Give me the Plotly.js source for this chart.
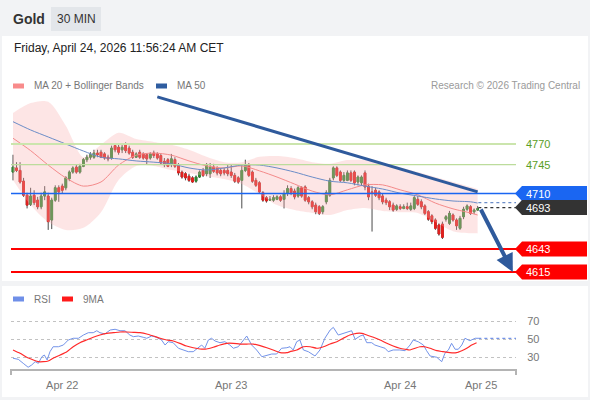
<!DOCTYPE html>
<html><head><meta charset="utf-8">
<script src="https://cdn.plot.ly/plotly-3.0.1.min.js"></script>
<style>html,body{margin:0;padding:0;background:#fff;}#chart{width:590px;height:400px;}</style>
</head><body><div id="chart"></div>
<script>
// ---------- DATA (30-min bars) ----------
const openP = [4736,4741,4738,4725,4708,4697,4708,4702,4694,4707,
 4707,4678,4702,4717,4719,4717,4728,4736,4742,4736,
 4743,4751,4754,4754,4759,4760,4758,4754,4753,4768,
 4766,4763,4769,4765,4760,4754,4760,4758,4757,4753,
 4759,4758,4756,4749,4751,4745,4751,4745,4736,4734,
 4731,4729,4725,4730,4738,4734,4734,4742,4741,4738,
 4738,4738,4736,4732,4729,4726,4738,4745,4736,4726,
 4723,4711,4705,4702,4702,4703,4706,4703,4710,4716,
 4713,4707,4717,4718,4705,4700,4696,4694,4688,4700,
 4708,4729,4741,4736,4726,4726,4735,4736,4724,4723,
 4735,4719,4712,4714,4712,4707,4702,4700,4696,4691,
 4694,4692,4694,4691,4692,4703,4700,4695,4688,4683,
 4678,4672,4673,4679,4674,4684,4678,4668,4682,4691,
 4694,4688,4690];
const highP = [4757,4748,4748,4729,4711,4717,4714,4706,4711,4719,
 4711,4705,4720,4720,4722,4731,4738,4743,4745,4746,
 4753,4757,4760,4763,4763,4763,4760,4757,4768,4770,
 4769,4769,4772,4768,4763,4760,4763,4760,4759,4760,
 4762,4760,4758,4753,4753,4758,4754,4747,4738,4736,
 4734,4731,4732,4738,4741,4747,4747,4746,4743,4741,
 4741,4745,4745,4735,4731,4745,4751,4747,4738,4729,
 4725,4713,4707,4707,4708,4708,4708,4714,4720,4719,
 4716,4719,4719,4720,4707,4702,4699,4696,4696,4714,
 4729,4743,4743,4738,4736,4738,4738,4738,4732,4732,
 4738,4722,4719,4717,4714,4710,4705,4702,4699,4697,
 4697,4697,4699,4699,4707,4707,4703,4697,4690,4685,
 4680,4674,4676,4684,4689,4686,4680,4683,4694,4697,
 4696,4692,4695];
const lowP = [4726,4736,4722,4706,4692,4695,4696,4691,4691,4702,
 4666,4667,4700,4700,4710,4714,4725,4734,4734,4734,
 4742,4748,4751,4752,4754,4753,4751,4749,4751,4760,
 4757,4759,4759,4757,4752,4753,4752,4751,4745,4751,
 4753,4751,4745,4742,4742,4742,4741,4732,4728,4726,
 4724,4723,4723,4729,4730,4731,4729,4735,4732,4731,
 4732,4731,4729,4723,4722,4692,4736,4730,4723,4718,
 4710,4700,4699,4701,4700,4702,4700,4692,4707,4708,
 4703,4705,4705,4700,4697,4691,4685,4684,4685,4697,
 4706,4726,4730,4724,4724,4725,4724,4720,4720,4720,
 4714,4702,4664,4706,4702,4697,4696,4690,4688,4689,
 4690,4691,4690,4689,4690,4695,4691,4684,4677,4673,
 4666,4659,4655,4676,4672,4676,4666,4666,4679,4689,
 4684,4685,4689];
const closeP = [4742,4738,4724,4708,4696,4707,4699,4694,4707,4712,
 4676,4702,4717,4712,4714,4729,4736,4741,4736,4743,
 4751,4754,4757,4759,4757,4754,4753,4752,4765,4763,
 4760,4766,4762,4759,4754,4758,4754,4753,4752,4758,
 4756,4753,4747,4745,4743,4752,4743,4735,4730,4729,
 4726,4724,4730,4736,4732,4745,4742,4737,4735,4734,
 4735,4734,4732,4725,4724,4738,4745,4732,4725,4720,
 4712,4702,4701,4703,4705,4706,4702,4710,4716,4711,
 4706,4717,4707,4702,4700,4694,4688,4686,4694,4711,
 4726,4741,4732,4726,4732,4735,4726,4723,4730,4730,
 4718,4706,4711,4708,4705,4700,4699,4694,4690,4695,
 4692,4694,4692,4695,4705,4697,4694,4686,4679,4676,
 4668,4661,4657,4682,4686,4678,4671,4680,4691,4695,
 4686,4690,4692];

// indicator samples (bar index -> value)
const indIdx = [0,5,10,15,20,25,30,35,40,45,50,55,60,65,70,75,80,85,90,95,100,105,110,115,120,125,130,132];
const ma50 = [4797,4787,4778.5,4770,4761.5,4754,4752,4749.5,4748,4746,4741,4738.5,4741,4744.5,4744.5,4741,4736,4730,4725,4723,4719,4715.5,4710.5,4707,4703.5,4701,4700,4698.5];
const ma20 = [4777,4762,4744.5,4729,4719,4724,4744.5,4756.5,4759,4756.5,4749.5,4743.5,4741,4743.5,4737.5,4730,4721.5,4713,4708.5,4714.5,4720.5,4720.5,4714.5,4708.5,4698.5,4691.5,4686.5,4684];
const bbUpper = [4807.5,4819.5,4821,4792,4754,4769,4783.5,4776,4772.5,4769,4763,4754.5,4748,4748,4754.5,4755.5,4753,4748,4746,4750.5,4750.5,4746,4742,4736,4730,4724,4718,4715.5];
const bbLower = [4726.5,4696,4675.5,4666,4668.5,4687.5,4726.5,4743.5,4743.5,4738.5,4735,4731,4727.5,4721.5,4709.5,4696,4690,4686.5,4684,4690,4692.5,4689,4687.5,4686.5,4675.5,4664.5,4662,4662];

const rsiIdx = [0,1.5,2.9,4.3,5.3,6.3,7.2,8.2,8.9,9.7,10.5,11.4,12.9,14.3,15.7,17.1,18.6,20,21.4,22.8,23.8,24.7,26.1,27.6,29,30.4,31.8,33.2,34.2,35.6,37,38,39.4,40.8,42.2,43.2,44.1,45.5,47,48.4,49.8,51.2,52.6,53.6,54.5,55.5,56.4,57.4,58.8,60.2,61.6,62.6,64,65.4,66.4,67.8,69.2,70.7,72.1,73.5,74.9,76.3,77.8,78.7,79.6,80.6,81.5,82.5,83.9,85.8,87.2,88.6,90.1,91,92.4,93.8,95.3,96.2,97.2,98.6,99.5,100.5,101.9,102.8,104.3,105.7,106.6,108,109.9,111.4,112.8,113.7,115.1,116.6,117.5,118.5,120.4,121.8,122.7,123.7,124.6,125.6,126.5,127.5,128.4,129.8,131.3,132.2];
const rsiVal = [28.6,27.4,23,18.6,21.1,24.8,23,30.3,32.2,26.7,35.9,41.4,41.4,43.3,48.9,50.8,50.8,54.4,57,57,59.2,57,55.6,60,60.8,59.2,59.2,54.4,52.6,53.3,51.9,50.8,53.3,51.9,48.9,43.3,47,45.9,39.7,37.8,35.9,35.9,39.7,43.3,39.7,48.9,50.8,47.8,45.9,47,43.3,39.7,41.4,48.9,53.3,43.3,37.8,30.3,32.2,33.3,33.3,39.7,40.3,41.4,37.8,47,48.9,37.8,35.9,31.1,37.8,50.8,60,62.9,54.4,56.3,58.1,59.2,49.7,53.3,54.4,45.9,45.9,43.3,41.4,39.7,35.9,37.8,37.8,37,43.3,48.9,47,43.3,37,31.1,29.7,24.8,34.1,37.8,45.2,38.6,38.6,43.3,50.8,48.1,50.8,50.8];
const maRsiIdx = [0,2,3.9,5.8,7.2,8.6,10,11.4,13.4,15.3,17.1,19,20.9,22.8,24.7,26.6,28.5,30.4,32.3,34.2,36.1,38,39.9,41.8,43.7,45.5,47.4,49.3,51.2,53.1,55,56.9,58.8,60.7,62.6,64.5,66.4,68.3,70.2,72.1,73.9,75.9,77.8,78.7,80.6,82.5,84.4,86.3,88.2,90.1,92,93.8,95.7,97.6,99.1,100.5,102.4,104.3,106.2,108,109.9,111.4,112.8,114.2,115.6,117,118.5,120.4,122.2,124.1,126,127.5,128.9,130.3,131.7];
const maRsiVal = [37.8,34.1,29.7,26.7,24.8,24.8,25.6,28.6,32.2,35.9,41.4,45.9,48.9,51.9,54.4,56.3,57,57.8,57.8,57.4,57,55.6,53.3,50.8,48.9,47.8,45.2,42.2,40.3,38.9,38.9,40.8,43.3,45.2,45.2,44.4,44.4,44.4,42.6,40.3,37.8,34.8,34.8,35.9,37.8,41.4,41.4,39.7,41.4,44.4,47,50.8,54.4,56.3,56.3,54.4,51.9,48.9,45.2,42.2,39.7,38.6,37.8,39.7,41.4,41.4,39.7,37,35.9,34.8,34.8,37,39.7,43.3,45.9];

const tickIdx = [14, 62, 110, 133];
const tickText = ['Apr 22', 'Apr 23', 'Apr 24', 'Apr 25'];
const rsiTicks = [30, 50, 70];

const resistLevels = [4770, 4745];
const pivotLevel = 4710;
const lastPrice = 4693;
const lastMa50 = 4699;
const supportLevels = [4643, 4615];
const trendIdx = [41, 132];
const trendPrice = [4827, 4712];
const arrowIdx = [132.7, 142];
const arrowPrice = [4692.5, 4615];

// ---------- helpers ----------
const W = 590, H = 400;
const px = x => x / W;
const py = y => 1 - y / H;
const FONT = "Arial, 'Liberation Sans', sans-serif";
const bars = openP.map((_, i) => i);
const bodyHi = openP.map((o, i) => Math.max(o, closeP[i]));
const bodyLo = openP.map((o, i) => Math.min(o, closeP[i]));
const xEnd = 142.9;
const GREEN = '#2e8b34', RED = '#e3201e';

const data = [
  {type:'scatter', x:indIdx, y:bbUpper, mode:'lines', line:{width:0, shape:'spline', smoothing:0.8}, xaxis:'x', yaxis:'y', hoverinfo:'skip'},
  {type:'scatter', x:indIdx, y:bbLower, mode:'lines', fill:'tonexty', fillcolor:'rgba(250,175,175,0.32)', line:{width:0, shape:'spline', smoothing:0.8}, xaxis:'x', yaxis:'y', hoverinfo:'skip'},
  {type:'scatter', x:indIdx, y:ma20, mode:'lines', line:{color:'#f48a8a', width:1, shape:'spline', smoothing:0.8}, xaxis:'x', yaxis:'y'},
  {type:'scatter', x:indIdx, y:ma50, mode:'lines', line:{color:'#6b8dc8', width:1, shape:'spline', smoothing:0.8}, xaxis:'x', yaxis:'y'},
  {type:'candlestick', x:bars, open:openP, high:highP, low:lowP, close:closeP, xaxis:'x', yaxis:'y',
   increasing:{line:{color:'#4a4a4a', width:1}, fillcolor:GREEN},
   decreasing:{line:{color:'#4a4a4a', width:1}, fillcolor:RED}},
  {type:'candlestick', x:bars, open:openP, high:bodyHi, low:bodyLo, close:closeP, xaxis:'x', yaxis:'y',
   increasing:{line:{color:GREEN, width:1}, fillcolor:GREEN},
   decreasing:{line:{color:RED, width:1}, fillcolor:RED}},
  {type:'scatter', x:rsiIdx, y:rsiVal, mode:'lines', line:{color:'#7393e9', width:1}, xaxis:'x', yaxis:'y2'},
  {type:'scatter', x:maRsiIdx, y:maRsiVal, mode:'lines', line:{color:'#ff2a2a', width:1.2, shape:'spline', smoothing:0.6}, xaxis:'x', yaxis:'y2'}
];

const shapes = [];
const annotations = [];
const gray = '#f2f3f5';
// page frame
shapes.push({type:'rect', xref:'paper', yref:'paper', x0:0, x1:1, y0:py(36), y1:1, fillcolor:gray, line:{width:0}, layer:'below'});
shapes.push({type:'rect', xref:'paper', yref:'paper', x0:0, x1:1, y0:py(286), y1:py(281), fillcolor:gray, line:{width:0}, layer:'below'});
shapes.push({type:'rect', xref:'paper', yref:'paper', x0:0, x1:1, y0:0, y1:py(397), fillcolor:gray, line:{width:0}, layer:'below'});
shapes.push({type:'rect', xref:'paper', yref:'paper', x0:0, x1:px(2), y0:0, y1:1, fillcolor:gray, line:{width:0}, layer:'below'});
shapes.push({type:'rect', xref:'paper', yref:'paper', x0:px(588), x1:1, y0:0, y1:1, fillcolor:gray, line:{width:0}, layer:'below'});
// badge
shapes.push({type:'rect', xref:'paper', yref:'paper', x0:px(51), x1:px(101), y0:py(31), y1:py(7), fillcolor:'#e3e6ea', line:{width:0}});
annotations.push({xref:'paper', yref:'paper', x:px(11), y:py(19), xanchor:'left', yanchor:'middle', text:'<b>Gold</b>', showarrow:false, font:{family:FONT, size:14, color:'#333'}});
annotations.push({xref:'paper', yref:'paper', x:px(76), y:py(19), xanchor:'center', yanchor:'middle', text:'30 MIN', showarrow:false, font:{family:FONT, size:12, color:'#333'}});
annotations.push({xref:'paper', yref:'paper', x:px(12), y:py(48), xanchor:'left', yanchor:'middle', text:'Friday, April 24, 2026 11:56:24 AM CET', showarrow:false, font:{family:FONT, size:12, color:'#222'}});
// legends
function legendItem(x, y, color, label) {
  shapes.push({type:'rect', xref:'paper', yref:'paper', x0:px(x), x1:px(x+11), y0:py(y+2.5), y1:py(y-2.5), fillcolor:color, line:{width:0}});
  annotations.push({xref:'paper', yref:'paper', x:px(x+19), y:py(y), xanchor:'left', yanchor:'middle', text:label, showarrow:false, font:{family:FONT, size:10, color:'#777'}});
}
legendItem(13, 86, '#f88b8b', 'MA 20 + Bollinger Bands');
legendItem(156, 86, '#2f5da0', 'MA 50');
legendItem(13, 299, '#6f8fe8', 'RSI');
legendItem(62, 299, '#ff1a1a', '9MA');
annotations.push({xref:'paper', yref:'paper', x:px(582), y:py(86), xanchor:'right', yanchor:'middle', text:'Research © 2026 Trading Central', showarrow:false, font:{family:FONT, size:10, color:'#9a9a9a'}});

// horizontal levels
resistLevels.forEach((lv, k) => {
  shapes.push({type:'line', xref:'x domain', yref:'y', x0:0, x1:1, y0:lv, y1:lv, line:{color: k === 0 ? '#cbe5ad' : '#bcdc9c', width: k === 0 ? 2 : 1.2}});
  annotations.push({xref:'paper', yref:'y', x:px(537.5), y:lv, xanchor:'center', yanchor:'middle', text:String(lv), showarrow:false, font:{family:FONT, size:11, color:'#5a9e25'}});
});
shapes.push({type:'line', xref:'x domain', yref:'y', x0:0, x1:1, y0:pivotLevel, y1:pivotLevel, line:{color:'#1a66f2', width:1.5}});
supportLevels.forEach(lv => {
  shapes.push({type:'line', xref:'x domain', yref:'y', x0:0, x1:1, y0:lv, y1:lv, line:{color:'#ff0000', width:2}});
});
// dotted extensions
shapes.push({type:'line', xref:'x', yref:'y', x0:rsiIdx[rsiIdx.length-1], x1:xEnd, y0:lastMa50, y1:lastMa50, line:{color:'#6b8dc8', width:1.2, dash:'dot'}});
shapes.push({type:'line', xref:'x', yref:'y', x0:rsiIdx[rsiIdx.length-1], x1:xEnd, y0:lastPrice, y1:lastPrice, line:{color:'#333', width:1.2, dash:'dot'}});
shapes.push({type:'line', xref:'x', yref:'y2', x0:rsiIdx[rsiIdx.length-1], x1:xEnd, y0:rsiVal[rsiVal.length-1], y1:rsiVal[rsiVal.length-1], line:{color:'#7393e9', width:1.2, dash:'dot'}});
// tag boxes
function tag(lv, color) {
  shapes.push({type:'path', xref:'paper', yref:'y', xsizemode:'pixel', ysizemode:'pixel', xanchor:px(515), yanchor:lv,
    path:'M0,0 L7,7.5 L72,7.5 L72,-7.5 L7,-7.5 Z', fillcolor:color, line:{width:0}});
  annotations.push({xref:'paper', yref:'y', x:px(537.5), y:lv, xanchor:'center', yanchor:'middle', text:String(lv), showarrow:false, font:{family:FONT, size:11, color:'#fff'}});
}
tag(pivotLevel, '#1a66f2');
tag(lastPrice, '#333333');
supportLevels.forEach(lv => tag(lv, '#ff0000'));
// trendline
shapes.push({type:'line', xref:'x', yref:'y', x0:trendIdx[0], x1:trendIdx[1], y0:trendPrice[0], y1:trendPrice[1], line:{color:'#2f5a9c', width:3}});
// arrow
annotations.push({xref:'x', yref:'y', axref:'x', ayref:'y', x:arrowIdx[1], y:arrowPrice[1], ax:arrowIdx[0], ay:arrowPrice[0], showarrow:true, arrowhead:2, arrowsize:0.9, arrowwidth:4, arrowcolor:'#2f5a9c', text:''});
// axis end caps
shapes.push({type:'line', xref:'paper', yref:'paper', x0:px(11), x1:px(11), y0:py(369), y1:py(375), line:{color:'#b4b4b4', width:2}});
shapes.push({type:'line', xref:'paper', yref:'paper', x0:px(516), x1:px(516), y0:py(369), y1:py(375), line:{color:'#b4b4b4', width:2}});

const layout = {
  width: W, height: H,
  margin: {l:0, r:0, t:0, b:0, pad:0},
  paper_bgcolor: '#ffffff', plot_bgcolor: 'rgba(0,0,0,0)',
  showlegend: false,
  font: {family: FONT},
  xaxis: {domain:[px(11), px(516)], range:[-0.57, xEnd], anchor:'y2', showline:true, linecolor:'#b4b4b4', linewidth:2,
    ticks:'outside', ticklen:5, tickcolor:'rgba(0,0,0,0)', tickvals:tickIdx, ticktext:tickText,
    tickfont:{size:11, color:'#777', family:FONT}, showgrid:false, zeroline:false, automargin:false,
    rangeslider:{visible:false}, fixedrange:true},
  yaxis: {domain:[py(282), py(92)], range:[4602.93, 4832.95], anchor:'x', visible:false, showgrid:false, zeroline:false, fixedrange:true},
  yaxis2: {domain:[py(369), py(300)], range:[16.67, 93.33], anchor:'x', side:'right', tickvals:rsiTicks,
    showgrid:true, gridcolor:'#c2c2c2', griddash:'dot', gridwidth:1, zeroline:false, showline:false,
    ticks:'outside', ticklen:8, tickcolor:'rgba(0,0,0,0)', tickfont:{size:11, color:'#777', family:FONT}, automargin:false, fixedrange:true},
  shapes: shapes,
  annotations: annotations
};

Plotly.newPlot('chart', data, layout, {staticPlot:true, displayModeBar:false});
</script></body></html>
